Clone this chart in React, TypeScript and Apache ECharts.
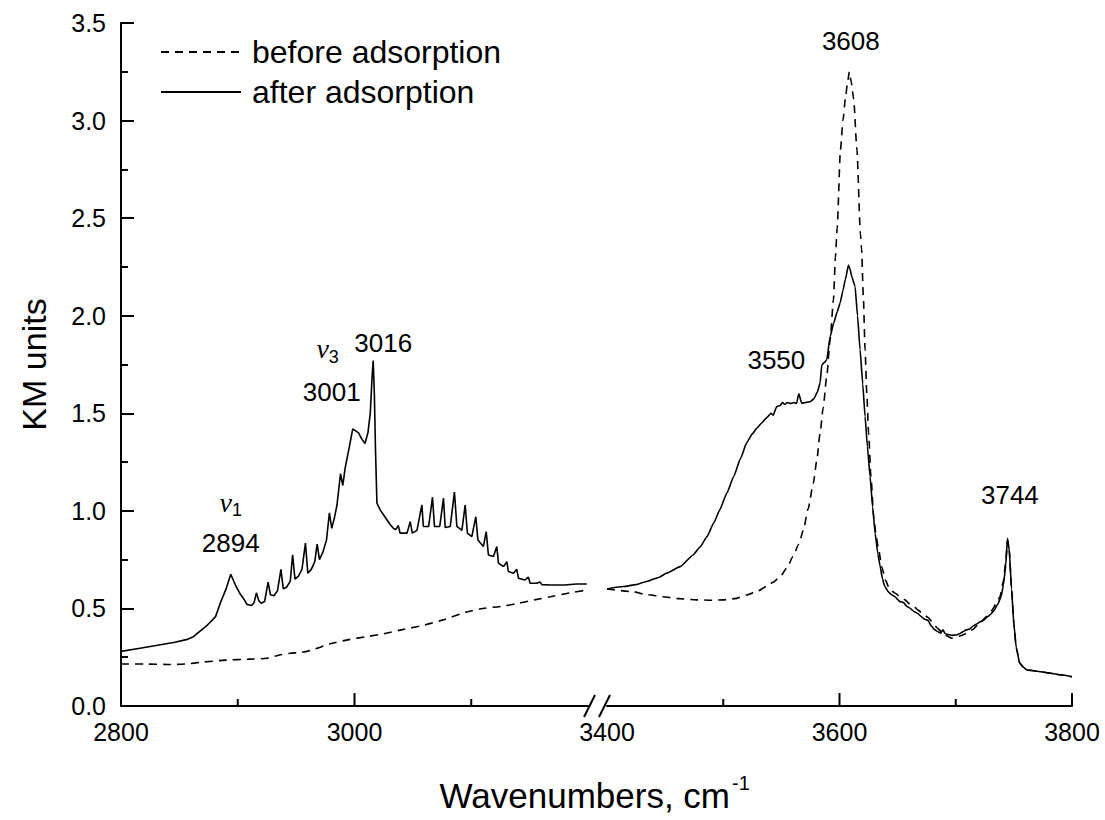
import React, { useEffect, useRef } from "react";
import * as echarts from "echarts";

// Kubelka–Munk spectra, [wavenumber cm-1, KM units]
const beforeLow: [number, number][] = [
  [2800, 0.215], [2820, 0.215], [2840, 0.213], [2855, 0.215], [2870, 0.225], [2890, 0.235],
  [2910, 0.24], [2925, 0.245], [2935, 0.26], [2945, 0.27], [2955, 0.275], [2965, 0.29],
  [2980, 0.32], [2995, 0.34], [3010, 0.355], [3025, 0.37], [3040, 0.39], [3060, 0.415],
  [3075, 0.44], [3095, 0.48], [3110, 0.5], [3125, 0.51], [3141, 0.527], [3155, 0.545],
  [3168, 0.56], [3185, 0.58], [3200, 0.595],
];

const afterLow: [number, number][] = [
  [2800, 0.28], [2815, 0.295], [2830, 0.31], [2845, 0.325], [2856, 0.34], [2862, 0.355],
  [2868, 0.385], [2874, 0.415], [2881, 0.458], [2885, 0.527], [2890, 0.6], [2894, 0.675],
  [2898, 0.62], [2902, 0.575], [2905, 0.55], [2908, 0.52], [2912, 0.515], [2914, 0.53],
  [2916, 0.58], [2918, 0.54], [2920, 0.527], [2923, 0.535], [2926, 0.635], [2928, 0.57],
  [2931, 0.565], [2934, 0.59], [2937, 0.7], [2939, 0.6], [2942, 0.61], [2945, 0.64],
  [2947, 0.775], [2949, 0.65], [2952, 0.665], [2955, 0.7], [2958, 0.835], [2960, 0.68],
  [2963, 0.7], [2966, 0.74], [2968, 0.83], [2970, 0.75], [2973, 0.79], [2976, 0.85],
  [2978.5, 0.99], [2980.5, 0.91], [2983, 0.97], [2985, 1.03], [2988, 1.19], [2990, 1.13],
  [2992, 1.22], [2995, 1.31], [2998.5, 1.42], [3001, 1.41], [3003.5, 1.4], [3006, 1.37],
  [3009, 1.345], [3011.5, 1.4], [3013.5, 1.5], [3015, 1.68], [3016, 1.77], [3017, 1.6],
  [3018, 1.31], [3019.2, 1.04], [3022, 1.005], [3026, 0.97], [3030.5, 0.93], [3033.5, 0.91],
  [3035.5, 0.905], [3037.5, 0.925], [3039, 0.886], [3045, 0.886], [3047.7, 0.945],
  [3049.5, 0.886], [3053.5, 0.9], [3057.7, 1.03], [3059, 0.92], [3063.5, 0.92],
  [3066.8, 1.07], [3068.5, 0.92], [3073, 0.92], [3076.2, 1.065], [3077.7, 0.915],
  [3082, 0.92], [3085.6, 1.096], [3087.7, 0.92], [3092, 0.9], [3094.8, 1.03],
  [3096.7, 0.886], [3100.5, 0.868], [3103.9, 0.97], [3105.7, 0.851], [3110.4, 0.817],
  [3112.8, 0.894], [3114.7, 0.774], [3119, 0.766], [3121.9, 0.817], [3123.3, 0.732],
  [3127.6, 0.714], [3130.5, 0.74], [3131.8, 0.689], [3136, 0.68], [3139, 0.7],
  [3140.4, 0.655], [3146, 0.646], [3149, 0.66], [3150.4, 0.629], [3156, 0.629],
  [3159, 0.635], [3160.5, 0.622], [3168, 0.62], [3180, 0.62], [3190, 0.625], [3199, 0.625],
];

const beforeHigh: [number, number][] = [
  [3400, 0.6], [3422, 0.586], [3435, 0.57], [3448, 0.56], [3462, 0.55], [3477, 0.544],
  [3490, 0.542], [3500, 0.544], [3510, 0.55], [3520, 0.569], [3530, 0.59], [3537, 0.612],
  [3543, 0.635], [3549, 0.663], [3555, 0.71], [3560, 0.766], [3565, 0.83], [3569, 0.903],
  [3573, 1.01], [3577.5, 1.142], [3580.5, 1.26], [3583.3, 1.398], [3586, 1.53],
  [3589, 1.689], [3592, 1.88], [3594.8, 2.082], [3596.5, 2.3], [3598, 2.45], [3600.8, 2.85],
  [3603, 3.0], [3605, 3.11], [3607, 3.2], [3608.5, 3.25], [3610, 3.2], [3612.2, 3.11],
  [3615, 2.85], [3618, 2.42], [3619, 2.34], [3620.5, 2.1], [3622, 1.826], [3623.5, 1.6],
  [3625, 1.4], [3627, 1.18], [3629.4, 0.971], [3631.5, 0.87], [3633.7, 0.8], [3636.5, 0.71],
  [3639.5, 0.646], [3643, 0.6], [3648, 0.578], [3652, 0.56], [3656, 0.545], [3660, 0.525],
  [3664, 0.51], [3668, 0.49], [3672, 0.47], [3676, 0.455], [3680, 0.43], [3684, 0.4],
  [3688, 0.38], [3692, 0.36], [3696.6, 0.347], [3700, 0.35], [3704, 0.36], [3709, 0.37],
  [3714, 0.39], [3720, 0.42], [3726.5, 0.458], [3731, 0.49], [3735, 0.527], [3738, 0.56],
  [3741, 0.64], [3743, 0.74], [3744.5, 0.85], [3746, 0.8], [3748, 0.6], [3750, 0.42],
  [3752, 0.3], [3755, 0.22], [3758, 0.2], [3761, 0.185], [3770, 0.178], [3779, 0.17],
  [3790, 0.16], [3800, 0.15],
];

const afterHigh: [number, number][] = [
  [3400, 0.6], [3414, 0.612], [3425, 0.622], [3434, 0.638], [3445, 0.66], [3451, 0.68],
  [3463, 0.714], [3474, 0.774], [3480, 0.815], [3486, 0.868], [3492, 0.94], [3497, 1.005],
  [3503, 1.09], [3509, 1.176], [3515, 1.27], [3520, 1.347], [3525, 1.395], [3529, 1.424],
  [3533, 1.45], [3537, 1.475], [3541, 1.5], [3543, 1.49], [3546, 1.535], [3549, 1.54],
  [3551, 1.555], [3553, 1.545], [3555, 1.555], [3558, 1.55], [3561, 1.555], [3563, 1.55],
  [3565, 1.6], [3567.5, 1.552], [3571, 1.555], [3575, 1.56], [3578, 1.575], [3581, 1.61],
  [3583.3, 1.655], [3584.8, 1.749], [3587, 1.76], [3589, 1.774], [3592, 1.894],
  [3595, 1.962], [3598, 2.02], [3600.5, 2.065], [3603, 2.13], [3605, 2.185], [3607.7, 2.26],
  [3609, 2.24], [3610.6, 2.2], [3613.4, 2.15], [3615.5, 2.0], [3617.7, 1.826], [3620, 1.65],
  [3622, 1.484], [3624, 1.33], [3626.3, 1.176], [3628.5, 1.02], [3630.6, 0.886],
  [3633, 0.78], [3635, 0.714], [3637, 0.65], [3639, 0.612], [3642, 0.585], [3645, 0.569],
  [3648, 0.56], [3650, 0.545], [3652, 0.535], [3655, 0.53], [3658, 0.51], [3661, 0.5],
  [3664, 0.484], [3667, 0.475], [3670, 0.46], [3673, 0.445], [3676, 0.44], [3679, 0.41],
  [3682, 0.39], [3685, 0.38], [3687, 0.373], [3689, 0.39], [3691, 0.37], [3694, 0.365],
  [3697, 0.362], [3700, 0.364], [3703, 0.37], [3706, 0.38], [3709, 0.39], [3712, 0.395],
  [3715, 0.41], [3718, 0.42], [3721, 0.432], [3724, 0.44], [3727, 0.455], [3730, 0.47],
  [3733, 0.49], [3736, 0.52], [3739, 0.56], [3741, 0.62], [3743, 0.72], [3744.5, 0.86],
  [3746, 0.8], [3748, 0.6], [3750, 0.42], [3752, 0.3], [3755, 0.22], [3758, 0.2],
  [3761, 0.185], [3770, 0.178], [3779, 0.17], [3790, 0.16], [3800, 0.15],
];

// Band assignments: [wavenumber, KM value at the band]
const bandsLow: [number, number][] = [[2894, 0.675], [3001, 1.42], [3016, 1.77]];
const bandsHigh: [number, number][] = [[3550, 1.552], [3608, 3.25], [3744, 0.86]];

// Axis ticks (the low/high ranges are split by an axis break between 3200 and 3400)
const lowMajorTicks = [2800, 3000];
const lowMinorTicks = [2900, 3100];
const highMajorTicks = [3600, 3800];
const highMinorTicks = [3500, 3700];
const highLabels = [3400, 3600, 3800];

const FONT = "'Liberation Sans', Arial, Helvetica, sans-serif";
const INK = "#000";
const MAJOR = 13;
const MINOR = 7;

export default function App() {
  const ref = useRef<HTMLDivElement>(null);

  useEffect(() => {
    document.body.style.margin = "0";
    if (!ref.current) return;
    const chart = echarts.init(ref.current, undefined, { renderer: "svg" });

    const axisLine = { show: true, lineStyle: { color: INK, width: 2 } };
    const label = { color: INK, fontSize: 25, fontFamily: FONT };

    const bandLabel = (offset: [number, number]) => ({
      show: true,
      position: "inside",
      offset,
      formatter: "{c}",
      ...label,
      fontSize: 26,
    });
    const nuLabel = (sub: string, offset: [number, number]) => ({
      show: true,
      position: "inside",
      offset,
      formatter: `{n|ν}{s|${sub}}`,
      rich: {
        n: { fontFamily: "'Liberation Serif', 'DejaVu Serif', serif", fontStyle: "italic", fontSize: 28, color: INK },
        s: { fontFamily: FONT, fontSize: 18, color: INK, padding: [16, 0, 0, 0] },
      },
    });
    const mp = (item: any) => ({
      symbol: "rect",
      symbolSize: 1,
      itemStyle: { color: "rgba(0,0,0,0)" },
      data: item,
    });

    const lowMarks = [
      { coord: bandsLow[0], value: bandsLow[0][0], label: bandLabel([0, -31]) },
      { coord: bandsLow[0], value: bandsLow[0][0], label: nuLabel("1", [0, -72]) },
      { coord: bandsLow[1], value: bandsLow[1][0], label: bandLabel([-24, -37]) },
      { coord: bandsLow[1], value: bandsLow[1][0], label: nuLabel("3", [-28, -80]) },
      { coord: bandsLow[2], value: bandsLow[2][0], label: bandLabel([10, -18]) },
    ];
    const highMarks = [
      { coord: bandsHigh[0], value: bandsHigh[0][0], label: bandLabel([-5, -43]) },
      { coord: bandsHigh[2], value: bandsHigh[2][0], label: bandLabel([3, -43]) },
    ];
    const peakMark = [{ coord: bandsHigh[1], value: bandsHigh[1][0], label: bandLabel([2, -31]) }];

    const dashed = { color: INK, width: 1.6, type: [8, 6] as any };
    const solid = { color: INK, width: 1.6, type: "solid" as const };
    const plain = (v: number) => String(v);

    chart.setOption({
      animation: false,
      backgroundColor: "#fff",
      textStyle: { fontFamily: FONT },
      grid: [
        { left: 121, top: 23, width: 467, height: 683 },
        { left: 607, top: 23, width: 465, height: 683 },
      ],
      legend: {
        orient: "vertical",
        left: 160,
        top: 36,
        padding: 0,
        itemWidth: 80,
        itemHeight: 20,
        itemGap: 8,
        data: ["before adsorption", "after adsorption"],
        itemStyle: { opacity: 0 },
        textStyle: { color: INK, fontSize: 32, fontFamily: FONT, padding: [0, 0, 0, 6] },
      },
      xAxis: [
        {
          type: "value",
          gridIndex: 0,
          min: 2800,
          max: 3200,
          interval: 200,
          axisLine,
          axisTick: { show: false },
          minorTick: { show: false },
          axisLabel: { ...label, margin: 13, customValues: lowMajorTicks, formatter: plain },
          splitLine: { show: false },
        },
        {
          type: "value",
          gridIndex: 1,
          min: 3400,
          max: 3800,
          interval: 200,
          axisLine,
          axisTick: { show: false },
          minorTick: { show: false },
          axisLabel: { ...label, margin: 13, customValues: highLabels, formatter: plain },
          splitLine: { show: false },
        },
      ],
      yAxis: [
        {
          type: "value",
          gridIndex: 0,
          min: 0,
          max: 3.5,
          interval: 0.5,
          name: "KM units",
          nameLocation: "middle",
          nameRotate: 90,
          nameGap: 70,
          nameTextStyle: { color: INK, fontSize: 34, fontFamily: FONT },
          axisLine,
          axisTick: { show: true, inside: true, length: MAJOR, lineStyle: { color: INK, width: 2 } },
          minorTick: { show: true, splitNumber: 2, length: MINOR, lineStyle: { color: INK, width: 2 } },
          axisLabel: { ...label, margin: 15, formatter: (v: number) => v.toFixed(1) },
          splitLine: { show: false },
        },
        { type: "value", gridIndex: 1, min: 0, max: 3.5, interval: 0.5, show: false },
      ],
      series: [
        {
          name: "before adsorption",
          type: "line",
          xAxisIndex: 0,
          yAxisIndex: 0,
          data: beforeLow,
          symbol: "none",
          smooth: 0.3,
          lineStyle: dashed,
          itemStyle: { color: INK },
        },
        {
          name: "after adsorption",
          type: "line",
          xAxisIndex: 0,
          yAxisIndex: 0,
          data: afterLow,
          symbol: "none",
          lineStyle: solid,
          itemStyle: { color: INK },
          markPoint: mp(lowMarks),
        },
        {
          name: "before adsorption",
          type: "line",
          xAxisIndex: 1,
          yAxisIndex: 1,
          data: beforeHigh,
          symbol: "none",
          smooth: 0.2,
          smoothMonotone: "x",
          lineStyle: dashed,
          itemStyle: { color: INK },
          markPoint: mp(peakMark),
        },
        {
          name: "after adsorption",
          type: "line",
          xAxisIndex: 1,
          yAxisIndex: 1,
          data: afterHigh,
          symbol: "none",
          smooth: 0.15,
          smoothMonotone: "x",
          lineStyle: solid,
          itemStyle: { color: INK },
          markPoint: mp(highMarks),
        },
      ],
    });

    // Inward x tick marks, positioned through each grid's axis scale
    const tickStyle = { stroke: INK, lineWidth: 2 };
    const ticks: any[] = [];
    const xTick = (grid: number, v: number, len: number) => {
      const p = chart.convertToPixel({ gridIndex: grid }, [v, 0]) as number[];
      ticks.push({ type: "line", z: 10, shape: { x1: p[0], y1: p[1], x2: p[0], y2: p[1] - len }, style: tickStyle });
    };
    lowMajorTicks.forEach((v) => xTick(0, v, MAJOR));
    lowMinorTicks.forEach((v) => xTick(0, v, MINOR));
    highMajorTicks.forEach((v) => xTick(1, v, MAJOR));
    highMinorTicks.forEach((v) => xTick(1, v, MINOR));

    chart.setOption({
      graphic: [
        ...ticks,
        // axis break marks
        { type: "line", z: 10, shape: { x1: 584, y1: 717, x2: 595, y2: 695 }, style: tickStyle },
        { type: "line", z: 10, shape: { x1: 599, y1: 717, x2: 610, y2: 695 }, style: tickStyle },
        {
          type: "text",
          x: 730,
          y: 795,
          style: { text: "Wavenumbers, cm", fill: INK, fontSize: 35, fontFamily: FONT, align: "right", verticalAlign: "middle" },
        },
        {
          type: "text",
          x: 732,
          y: 783,
          style: { text: "-1", fill: INK, fontSize: 20, fontFamily: FONT, align: "left", verticalAlign: "middle" },
        },
      ],
    });

    return () => chart.dispose();
  }, []);

  return <div ref={ref} style={{ width: 1105, height: 820 }} />;
}
